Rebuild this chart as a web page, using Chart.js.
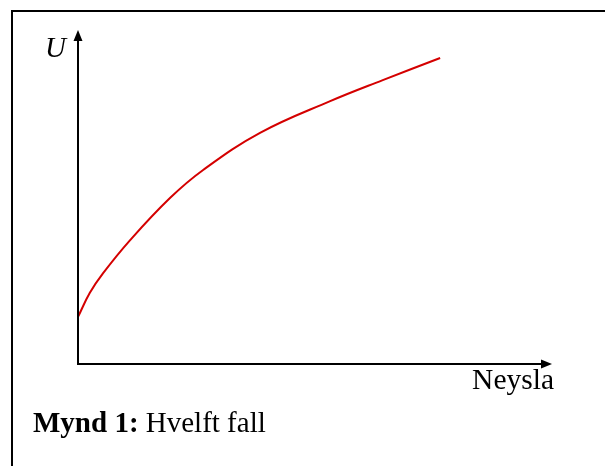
<!DOCTYPE html>
<html>
<head>
<meta charset="utf-8">
<script src="https://cdn.jsdelivr.net/npm/chart.js@4/dist/chart.umd.min.js"></script>
<style>
  html, body { margin: 0; padding: 0; background: #fff; }
  #wrap { width: 605px; height: 466px; position: relative; }
</style>
</head>
<body>
<div id="wrap"><canvas id="myChart" width="605" height="466"></canvas></div>
<script>
// (x = Neysla, y = U), 0..100 each
var neysla = [0, 2.5, 5.3, 11.0, 19.4, 26.4, 38.4, 53.2, 64.3, 76.4];
var nytsemi = [14.1, 21.3, 27.2, 37.1, 49.7, 58.1, 69.2, 78.7, 85.0, 91.6];

var yLabel = 'U';
var xLabel = 'Neysla';
var captionBold = 'Mynd 1:';
var captionText = ' Hvelft fall';

var points = neysla.map(function (x, i) {
    return { x: x, y: nytsemi[i] };
});

// axes with arrows, frame and the labels
var axesPlugin = {
    id: 'axesPlugin',
    afterDraw: function (chart) {
        var ctx = chart.ctx;
        var a = chart.chartArea;
        ctx.save();
        ctx.strokeStyle = '#000';
        ctx.fillStyle = '#000';
        ctx.lineWidth = 2;

        // frame (only top and left are in view)
        ctx.beginPath();
        ctx.moveTo(12, 466);
        ctx.lineTo(12, 11);
        ctx.lineTo(605, 11);
        ctx.stroke();

        // y axis
        ctx.beginPath();
        ctx.moveTo(a.left, a.bottom + 1);
        ctx.lineTo(a.left, a.top + 8);
        ctx.stroke();
        ctx.beginPath();
        ctx.moveTo(a.left, a.top);
        ctx.lineTo(a.left - 4.5, a.top + 11);
        ctx.lineTo(a.left + 4.5, a.top + 11);
        ctx.closePath();
        ctx.fill();

        // x axis
        ctx.beginPath();
        ctx.moveTo(a.left - 1, a.bottom);
        ctx.lineTo(a.right - 8, a.bottom);
        ctx.stroke();
        ctx.beginPath();
        ctx.moveTo(a.right, a.bottom);
        ctx.lineTo(a.right - 11, a.bottom - 4.5);
        ctx.lineTo(a.right - 11, a.bottom + 4.5);
        ctx.closePath();
        ctx.fill();

        ctx.textBaseline = 'alphabetic';
        ctx.font = 'italic 29px "Liberation Serif", "DejaVu Serif", serif';
        ctx.textAlign = 'left';
        ctx.fillText(yLabel, 45, 57);

        ctx.font = '29.5px "Liberation Serif", "DejaVu Serif", serif';
        ctx.textAlign = 'right';
        ctx.fillText(xLabel, 554, 389);

        ctx.textAlign = 'left';
        ctx.font = 'bold 29px "Liberation Serif", "DejaVu Serif", serif';
        ctx.fillText(captionBold, 33, 432);
        var w = ctx.measureText(captionBold).width;
        ctx.font = '29px "Liberation Serif", "DejaVu Serif", serif';
        ctx.fillText(captionText, 33 + w, 432);
        ctx.restore();
    }
};

var myChart = new Chart(document.getElementById('myChart'), {
    type: 'scatter',
    data: {
        datasets: [{
            label: yLabel,
            data: points,
            showLine: true,
            borderColor: '#d40000',
            borderWidth: 2,
            pointRadius: 0,
            tension: 0.4,
            fill: false
        }]
    },
    options: {
        responsive: false,
        animation: false,
        layout: { padding: { left: 78, right: 53, top: 30, bottom: 102 } },
        plugins: { legend: { display: false }, tooltip: { enabled: false } },
        scales: {
            x: { type: 'linear', min: 0, max: 100, display: false },
            y: { type: 'linear', min: 0, max: 100, display: false }
        }
    },
    plugins: [axesPlugin]
});
</script>
</body>
</html>
